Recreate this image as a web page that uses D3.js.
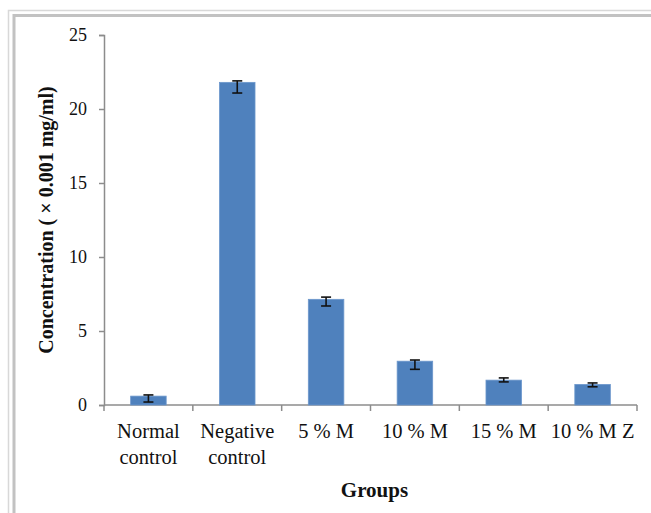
<!DOCTYPE html>
<html>
<head>
<meta charset="utf-8">
<script src="https://cdn.jsdelivr.net/npm/d3@7"></script>
<style>
  html, body { margin: 0; padding: 0; background: #fff; }
  svg { display: block; }
  text { font-family: "Liberation Serif", "Times New Roman", serif; fill: #111; }
</style>
</head>
<body>
<svg id="chart" width="651" height="513"></svg>
<script>
// Group labels (two-line ones split on "\n")
const groups = ["Normal\ncontrol", "Negative\ncontrol", "5 % M", "10 % M", "15 % M", "10 % M Z"];
// Mean concentration (× 0.001 mg/ml)
const means = [0.6, 21.8, 7.14, 2.96, 1.68, 1.39];
// Error bar extents above and below each mean
const errUp = [0.08, 0.1, 0.15, 0.08, 0.15, 0.1];
const errDown = [0.4, 0.72, 0.45, 0.55, 0.12, 0.16];
const yTicks = [0, 5, 10, 15, 20, 25];

const svg = d3.select("#chart");
const W = 651, H = 513;

// Double grey frame around the plot area
svg.append("rect").attr("x", 8.5).attr("y", 10.5).attr("width", W + 20).attr("height", H + 20)
  .attr("fill", "none").attr("stroke", "#d8d8d8").attr("stroke-width", 1.5);
svg.append("rect").attr("x", 14).attr("y", 15.5).attr("width", W + 20).attr("height", H + 20)
  .attr("fill", "none").attr("stroke", "#c2c2c2").attr("stroke-width", 3);

const plotL = 104, plotR = 637, plotT = 35, plotB = 405;

const x = d3.scaleBand().domain(groups).range([plotL, plotR]).paddingInner(0.6).paddingOuter(0.3);
const xBand = d3.scaleBand().domain(groups).range([plotL, plotR]);
const y = d3.scaleLinear().domain([0, 25]).range([plotB, plotT]);

const axisColor = "#8c8c8c";

// Y axis
const yAxis = svg.append("g").attr("transform", `translate(${plotL},0)`)
  .call(d3.axisLeft(y).tickValues(yTicks).tickSize(5).tickPadding(12));
yAxis.select(".domain").attr("stroke", axisColor).attr("stroke-width", 1.5);
yAxis.selectAll(".tick line").attr("stroke", axisColor).attr("stroke-width", 1.5);
yAxis.selectAll(".tick text").attr("font-size", 18).attr("font-family", "Liberation Serif").attr("fill", "#111");

// X axis line with ticks at category boundaries
const xg = svg.append("g");
xg.append("line").attr("x1", plotL).attr("x2", plotR).attr("y1", plotB).attr("y2", plotB)
  .attr("stroke", axisColor).attr("stroke-width", 1.5);
const bounds = groups.map(g => xBand(g)).concat([plotR]);
xg.selectAll(".xt").data(bounds).join("line")
  .attr("x1", d => d).attr("x2", d => d).attr("y1", plotB).attr("y2", plotB + 6)
  .attr("stroke", axisColor).attr("stroke-width", 1.5);

// Bars
svg.append("g").selectAll("rect").data(groups).join("rect")
  .attr("x", g => x(g))
  .attr("width", x.bandwidth())
  .attr("y", (g, i) => y(means[i]))
  .attr("height", (g, i) => plotB - y(means[i]))
  .attr("fill", "#4f81bd")
  .attr("stroke", "#6c97cc").attr("stroke-width", 0.8);

// Error bars
const eb = svg.append("g").attr("stroke", "#111").attr("stroke-width", 1.6);
groups.forEach((g, i) => {
  const cx = x(g) + x.bandwidth() / 2;
  const y1 = y(means[i] + errUp[i]), y2 = y(means[i] - errDown[i]);
  eb.append("line").attr("x1", cx).attr("x2", cx).attr("y1", y1).attr("y2", y2);
  eb.append("line").attr("x1", cx - 5).attr("x2", cx + 5).attr("y1", y1).attr("y2", y1);
  eb.append("line").attr("x1", cx - 5).attr("x2", cx + 5).attr("y1", y2).attr("y2", y2);
});

// Category labels
const lab = svg.append("g");
groups.forEach(g => {
  const cx = xBand(g) + xBand.bandwidth() / 2;
  const t = lab.append("text").attr("x", cx).attr("y", 438).attr("text-anchor", "middle").attr("font-size", 20.5);
  g.split("\n").forEach((line, k) => {
    t.append("tspan").attr("x", cx).attr("dy", k === 0 ? 0 : 26).text(line);
  });
});

// Axis titles
svg.append("text").attr("x", (plotL + plotR) / 2 + 4).attr("y", 497).attr("text-anchor", "middle")
  .attr("font-size", 21).attr("font-weight", "bold").text("Groups");
svg.append("text").attr("transform", "translate(53,220) rotate(-90)").attr("text-anchor", "middle")
  .attr("font-size", 20).attr("font-weight", "bold").text("Concentration ( × 0.001 mg/ml)");
</script>
</body>
</html>
